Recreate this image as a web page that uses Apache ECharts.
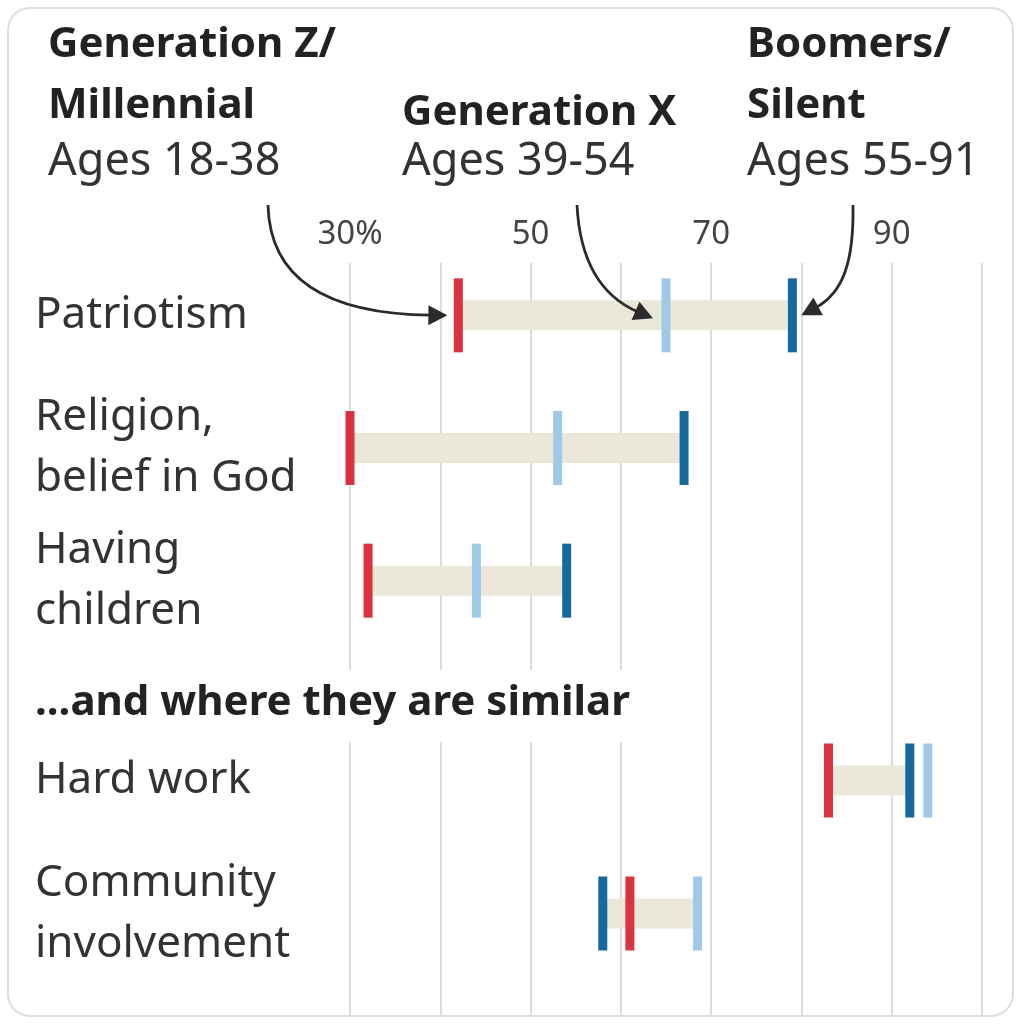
<!DOCTYPE html>
<html><head><meta charset="utf-8">
<script src="https://cdn.jsdelivr.net/npm/echarts@6.0.0/dist/echarts.min.js"></script>
<style>html,body{margin:0;padding:0;background:#fff}#c{width:1021px;height:1024px}</style>
</head><body><div id="c"></div>
<script>
const categoriesTop = ['Patriotism', 'Religion,\nbelief in God', 'Having\nchildren'];
const categoriesBottom = ['Hard work', 'Community\ninvolvement'];
const genZTop = [42, 30, 32];
const genXTop = [65, 53, 44];
const boomersTop = [79, 67, 54];
const genZBottom = [83, 61];
const genXBottom = [94, 68.5];
const boomersBottom = [92, 58];
const bandLowTop = [42, 30, 32];
const bandHighTop = [79, 67, 54];
const bandLowBottom = [83, 58];
const bandHighBottom = [92, 68.5];
const tickValues = [30, 50, 70, 90];
const tickLabels = ['30%', '50', '70', '90'];

const RED = '#d8333f', LIGHT = '#9ec9e7', DARK = '#15699d', BEIGE = '#ebe8da';
const FONT = '"Noto Sans", "Open Sans", sans-serif';

const chart = echarts.init(document.getElementById('c'));

function catAxis(grid, data) {
  return {
    gridIndex: grid, type: 'category', data: data, inverse: true,
    axisLine: {show: false}, axisTick: {show: false}, splitLine: {show: false},
    axisLabel: {align: 'left', margin: 315, fontSize: 44, lineHeight: 61, color: '#333', fontFamily: FONT}
  };
}
function hiddenX(grid) {
  return {gridIndex: grid, type: 'value', min: 30, max: 100, interval: 10, show: false};
}
function rangeSeries(ax, low, high, stack) {
  return [
    {type: 'bar', xAxisIndex: ax, yAxisIndex: ax, stack: stack, data: low, barWidth: 30,
     itemStyle: {color: 'rgba(0,0,0,0)'}, silent: true, z: 2},
    {type: 'bar', xAxisIndex: ax, yAxisIndex: ax, stack: stack, data: high.map((h, i) => h - low[i]),
     barWidth: 30, itemStyle: {color: BEIGE}, silent: true, z: 2}
  ];
}
function tickSeries(ax, vals, color, name) {
  return {type: 'scatter', name: name, xAxisIndex: ax, yAxisIndex: ax, symbol: 'rect', symbolSize: [9, 74],
    data: vals.map((v, i) => [v, i]), itemStyle: {color: color, opacity: 1}, z: 4, silent: true};
}

chart.setOption({
  animation: false,
  backgroundColor: '#fff',
  grid: [
    {left: 350, right: 39, top: 263, bottom: 9},
    {left: 350, right: 39, top: 249, height: 398},
    {left: 350, right: 39, top: 714, height: 266}
  ],
  xAxis: [
    {gridIndex: 0, type: 'value', min: 30, max: 100, interval: 10, position: 'top',
     axisLine: {show: false}, axisTick: {show: false},
     axisLabel: {margin: 12, fontSize: 33, color: '#444', fontFamily: FONT,
       formatter: v => { const k = tickValues.indexOf(v); return k >= 0 ? tickLabels[k] : ''; }},
     splitLine: {show: true, lineStyle: {color: '#dcdcdc', width: 2}}},
    hiddenX(1), hiddenX(2)
  ],
  yAxis: [
    {gridIndex: 0, type: 'category', data: [''], show: false},
    catAxis(1, categoriesTop),
    catAxis(2, categoriesBottom)
  ],
  series: [].concat(
    rangeSeries(1, bandLowTop, bandHighTop, 'top'),
    rangeSeries(2, bandLowBottom, bandHighBottom, 'bottom'),
    [
      tickSeries(1, genZTop, RED, 'Generation Z/Millennial'),
      tickSeries(1, genXTop, LIGHT, 'Generation X'),
      tickSeries(1, boomersTop, DARK, 'Boomers/Silent'),
      tickSeries(2, genZBottom, RED, 'Generation Z/Millennial'),
      tickSeries(2, genXBottom, LIGHT, 'Generation X'),
      tickSeries(2, boomersBottom, DARK, 'Boomers/Silent')
    ]
  )
});

function txt(text, x, y, bold) {
  return {type: 'text', z: 10, silent: true,
    style: {text: text, x: x, y: y, verticalAlign: 'middle', align: 'left',
      font: (bold ? 'bold 42px ' : '45px ') + FONT, fill: bold ? '#222' : '#333'}};
}
function arrow(start, cp1, cp2, tip) {
  const dx = tip[0] - cp2[0], dy = tip[1] - cp2[1];
  const L = Math.sqrt(dx * dx + dy * dy), ux = dx / L, uy = dy / L;
  const len = 19, hw = 10;
  const base = [tip[0] - ux * len, tip[1] - uy * len];
  return [
    {type: 'bezierCurve', z: 10, silent: true,
     shape: {x1: start[0], y1: start[1], cpx1: cp1[0], cpy1: cp1[1], cpx2: cp2[0], cpy2: cp2[1], x2: base[0] + ux * 3, y2: base[1] + uy * 3},
     style: {stroke: '#2b2b2b', lineWidth: 2.8, fill: null}},
    {type: 'polygon', z: 10, silent: true,
     shape: {points: [tip, [base[0] - uy * hw, base[1] + ux * hw], [base[0] + uy * hw, base[1] - ux * hw]]},
     style: {fill: '#2b2b2b'}}
  ];
}

const pZ = chart.convertToPixel({xAxisIndex: 1, yAxisIndex: 1}, [genZTop[0], 0]);
const pX = chart.convertToPixel({xAxisIndex: 1, yAxisIndex: 1}, [genXTop[0], 0]);
const pB = chart.convertToPixel({xAxisIndex: 1, yAxisIndex: 1}, [boomersTop[0], 0]);
const tipZ = [pZ[0] - 11, pZ[1]];
const tipX = [pX[0] - 13, pX[1] + 3];
const tipB = [pB[0] + 9, pB[1]];

const elements = [
  {type: 'rect', z: 0, silent: true, shape: {x: 8, y: 8, width: 1005, height: 1008, r: 22},
   style: {fill: null, stroke: '#dedede', lineWidth: 2}},
  {type: 'rect', z: 8, silent: true, shape: {x: 20, y: 670, width: 632, height: 72}, style: {fill: '#fff'}},
  {type: 'text', z: 10, silent: true,
   style: {text: '...and where they are similar', x: 35, y: 703, verticalAlign: 'middle',
     font: 'bold 42px ' + FONT, fill: '#222'}},
  txt('Generation Z/', 48, 45, true),
  txt('Millennial', 48, 106, true),
  txt('Ages 18-38', 48, 162, false),
  txt('Generation X', 402, 113, true),
  txt('Ages 39-54', 402, 162, false),
  txt('Boomers/', 747, 45, true),
  txt('Silent', 747, 106, true),
  txt('Ages 55-91', 747, 162, false)
].concat(
  arrow([268, 205], [270, 290], [345, tipZ[1] - 1], tipZ),
  arrow([577, 205], [580, 265], [603, 297], tipX),
  arrow([853, 205], [854, 262], [843, 293], tipB)
);
chart.setOption({graphic: {elements: elements}});
</script></body></html>
